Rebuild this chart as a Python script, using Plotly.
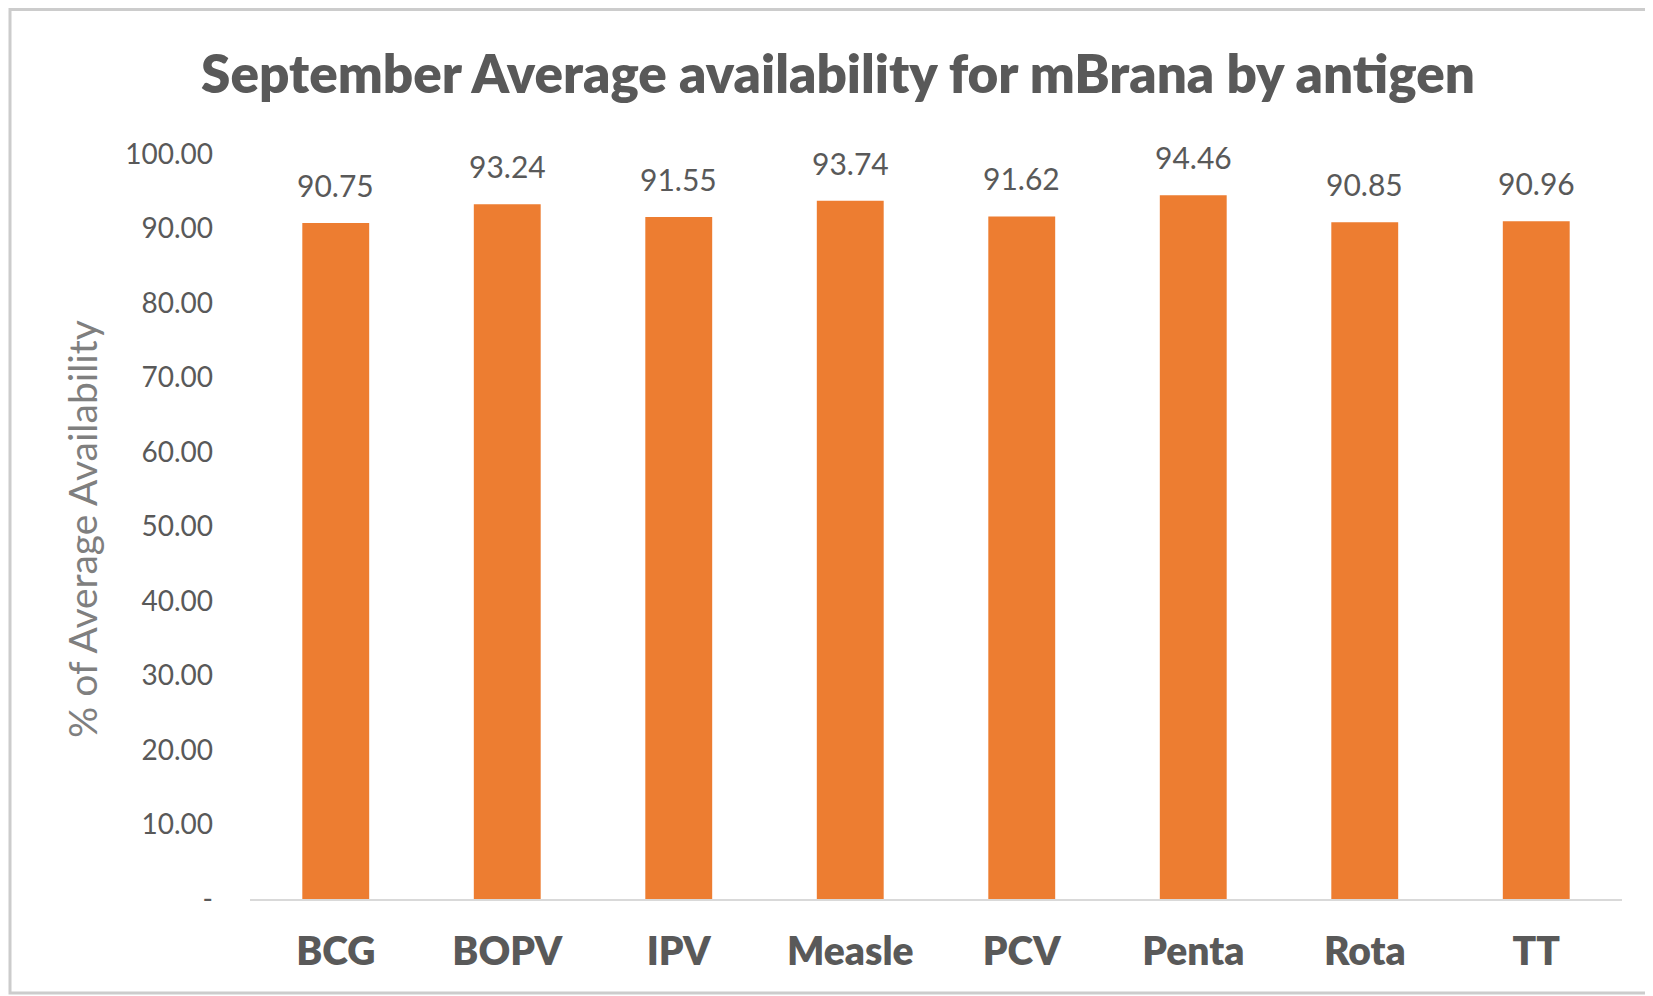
import plotly.graph_objects as go

antigens = ["BCG", "BOPV", "IPV", "Measle", "PCV", "Penta", "Rota", "TT"]
availability = [90.75, 93.24, 91.55, 93.74, 91.62, 94.46, 90.85, 90.96]
y_tick_vals = [0, 10, 20, 30, 40, 50, 60, 70, 80, 90, 100]
y_tick_text = ["-", "10.00", "20.00", "30.00", "40.00", "50.00", "60.00", "70.00", "80.00", "90.00", "100.00"]

OFF = 8  # page body margin
W, H = 1653 - OFF, 996 - OFF
L, R, T, B = 250 - OFF, 31, 154 - OFF, 97
pw, ph = W - L - R, H - T - B


def px(xf):
    return (xf - OFF - L) / pw


def py(yf):
    return (H - B - (yf - OFF)) / ph


fig = go.Figure()
fig.add_trace(go.Bar(
    x=antigens, y=availability,
    marker=dict(color="#ED7D31", line=dict(width=0)),
    cliponaxis=False, hoverinfo="x+y",
))

for a, v in zip(antigens, availability):
    fig.add_annotation(x=a, y=v, text=f"{v:.2f}", showarrow=False,
                       yanchor="bottom", yshift=18,
                       font=dict(family="Lato", size=30, color="#595959"))

fig.add_annotation(xref="paper", yref="paper", x=px(82), y=py(529),
                   xanchor="center", yanchor="middle",
                   text="% of Average Availability", textangle=-90, showarrow=False,
                   font=dict(family="Lato", size=39, color="#7f7f7f"))

fig.add_shape(type="rect", xref="paper", yref="paper",
              x0=px(10), x1=px(1665),
              y0=py(993), y1=py(OFF + 1.5),
              line=dict(color="#cccccc", width=3), layer="below")

fig.update_layout(
    width=W, height=H,
    margin=dict(l=L, r=R, t=T, b=B),
    paper_bgcolor="white", plot_bgcolor="white",
    bargap=0.61,
    showlegend=False,
    title=dict(text="September Average availability for mBrana by antigen",
               x=(838 - OFF) / W, xanchor="center", y=1 - (74 - OFF) / H, yanchor="middle",
               yref="container",
               font=dict(family="Lato", size=53, color="#595959", weight=800)),
    xaxis=dict(showline=True, linecolor="#d9d9d9", linewidth=2, ticks="",
               showgrid=False, ticklabelstandoff=17,
               tickfont=dict(family="Lato", size=39, color="#595959", weight=800)),
    yaxis=dict(range=[0, 100], showgrid=False, zeroline=False, showline=False,
               tickvals=y_tick_vals, ticktext=y_tick_text, ticks="",
               ticklabelstandoff=36,
               tickfont=dict(family="Lato", size=28, color="#595959")),
)

fig.write_html("out.html")
